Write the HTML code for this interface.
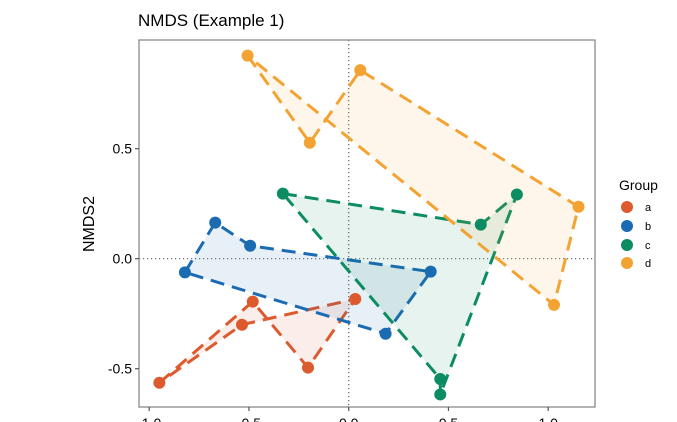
<!DOCTYPE html>
<html><head><meta charset="utf-8"><style>
html,body{margin:0;padding:0;background:#fff;}
svg{display:block;font-family:"Liberation Sans",Arial,sans-serif;}
</style></head><body>
<svg id="chart" width="677" height="422" viewBox="0 0 677 422">
<text x="138" y="26" font-size="17" fill="#000">NMDS (Example 1)</text>
<text transform="translate(94,224) rotate(-90)" text-anchor="middle" font-size="16" fill="#000">NMDS2</text>
<text x="455" y="61" font-size="13" fill="#000">Stress = 0.102</text>
<g id="plot"></g>
<g id="legend">
<text x="619" y="190" font-size="14" fill="#000">Group</text>
</g>
</svg>
<script>
const groups = ['a','b','c','d'];
const colors = ['#DC5A2E','#1B6BB3','#0C8C62','#F3A332'];
const xA = [-0.949,-0.481,-0.204,0.033,-0.535];
const yA = [-0.564,-0.195,-0.495,-0.183,-0.300];
const xB = [-0.821,-0.669,-0.494,0.411,0.185];
const yB = [-0.062,0.164,0.059,-0.059,-0.341];
const xC = [-0.330,0.662,0.843,0.459,0.459];
const yC = [0.296,0.155,0.292,-0.617,-0.547];
const xD = [-0.507,-0.195,0.058,1.152,1.029];
const yD = [0.923,0.527,0.857,0.236,-0.210];
const xTicks = [-1.0,-0.5,0.0,0.5,1.0];
const xTickLabels = ['-1.0','-0.5','0.0','0.5','1.0'];
const yTicks = [0.5,0.0,-0.5];
const yTickLabels = ['0.5','0.0','-0.5'];

const X0=348.7, XS=199.5, Y0=258.7, YS=220;
const sx = v => X0 + XS*v;
const sy = v => Y0 - YS*v;
const NS='http://www.w3.org/2000/svg';
const plot=document.getElementById('plot');
function mk(tag, attrs, parent){const e=document.createElementNS(NS,tag);for(const k in attrs)e.setAttribute(k,attrs[k]);(parent||plot).appendChild(e);return e;}
const L=139,R=595,T=40,B=407;

const bg=mk('rect',{x:L,y:T,width:R-L,height:B-T,fill:'#fff',stroke:'none'});



const vz=mk('line',{x1:sx(0),x2:sx(0),y1:T,y2:B,stroke:'#666','stroke-width':1.2,'stroke-dasharray':'1.2 2.8'});


const hz=mk('line',{x1:L,x2:R,y1:sy(0),y2:sy(0),stroke:'#666','stroke-width':1.2,'stroke-dasharray':'1.2 2.8'});



const xs=[xA,xB,xC,xD], ys=[yA,yB,yC,yD];
groups.forEach((g,i)=>{
  const pts=xs[i].map((x,j)=>sx(x).toFixed(1)+','+sy(ys[i][j]).toFixed(1)).join(' ');
  const poly=mk('polygon',{points:pts,fill:colors[i],'fill-opacity':0.1,stroke:colors[i],'stroke-width':3,'stroke-dasharray':'14 8','stroke-linejoin':'round'});
  
  
});
groups.forEach((g,i)=>{
  xs[i].forEach((x,j)=>{
    const c=mk('circle',{cx:sx(x),cy:sy(ys[i][j]),r:6,fill:colors[i]});
    
    
  });
});

const border=mk('rect',{x:L,y:T,width:R-L,height:B-T,fill:'none',stroke:'#8a8a8a','stroke-width':1.3});



xTicks.forEach((v,i)=>{
  const t=mk('line',{x1:sx(v),x2:sx(v),y1:B,y2:B+4,stroke:'#555','stroke-width':1.2});
  
  
  const tx=mk('text',{x:sx(v),y:428,'text-anchor':'middle','font-size':14,fill:'#000'});
  tx.textContent=xTickLabels[i];
  
  
});
yTicks.forEach((v,i)=>{
  const t=mk('line',{x1:L-4,x2:L,y1:sy(v),y2:sy(v),stroke:'#555','stroke-width':1.2});
  
  
  const tx=mk('text',{x:L-7,y:sy(v)+5,'text-anchor':'end','font-size':14,fill:'#000'});
  tx.textContent=yTickLabels[i];
  
  
});

const leg=document.getElementById('legend');
const legY=[207,226,245,263];
groups.forEach((g,i)=>{
  const c=mk('circle',{cx:627,cy:legY[i],r:6,fill:colors[i]},leg);
  
  
  const t=mk('text',{x:645,y:legY[i]+4,'font-size':11,fill:'#000'},leg);
  t.textContent=g;
  
  
});
</script>
</body></html>
